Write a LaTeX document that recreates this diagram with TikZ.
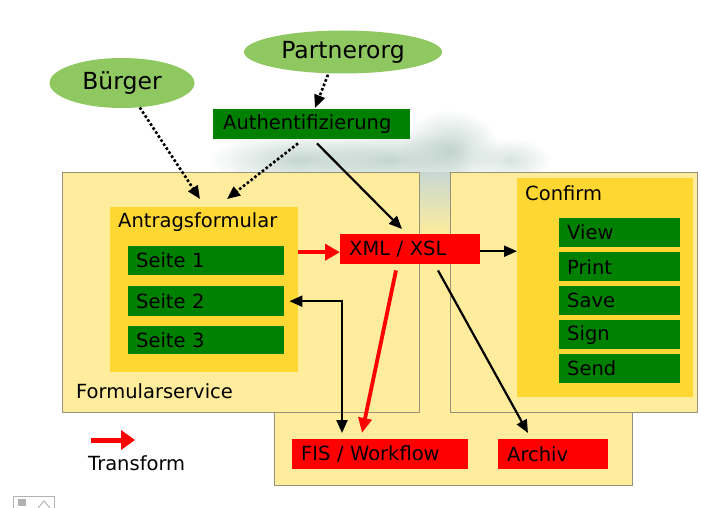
\documentclass[tikz,border=0pt]{standalone}
\usepackage{fontspec}
\setmainfont{DejaVu Sans}
\usetikzlibrary{arrows.meta,shapes.geometric,calc,fadings}
\tikzfading[name=cloudfade, inner color=transparent!0, outer color=transparent!100]
\definecolor{lightyel}{RGB}{255,236,156}
\definecolor{goldc}{RGB}{255,215,50}
\definecolor{darkgr}{RGB}{0,128,0}
\definecolor{redc}{RGB}{255,0,0}
\definecolor{ellgr}{RGB}{143,200,96}
\definecolor{bordc}{RGB}{150,145,120}
\definecolor{cloudc}{RGB}{175,200,190}
\tikzset{
  boxfont/.style={font=\fontsize{19.5}{22}\selectfont},
  bigbox/.style={draw=bordc, line width=0.8pt, fill=lightyel},
  goldbox/.style={fill=goldc},
  gbox/.style={boxfont, fill=darkgr, text=black, inner xsep=8pt, inner ysep=0pt, align=left, anchor=north west},
  rbox/.style={boxfont, fill=redc, text=black, inner xsep=9pt, inner ysep=0pt, align=left, anchor=north west},
  ell/.style={ellipse, fill=ellgr, inner sep=0pt, font=\fontsize{23.5}{26}\selectfont},
  lbl/.style={boxfont, anchor=west, inner sep=0pt},
  cloud/.style={fill=cloudc, path fading=cloudfade, fill opacity=0.75},
  dotarrow/.style={line width=2.6pt, dash pattern=on 2.6pt off 2.2pt, -{Triangle[length=13pt,width=11pt]}},
  blkarrow/.style={line width=2.2pt, -{Triangle[length=13pt,width=11pt]}},
  redarrow/.style={draw=redc, line width=3.8pt, -{Triangle[length=15pt,width=16pt]}},
}
\begin{document}
\begin{tikzpicture}[x=1pt,y=-1pt]
\useasboundingbox (0,0) rectangle (701,508);
\fill[white] (0,0) rectangle (701,508);
% cloud
\fill[cloud] (300,160) ellipse [x radius=90, y radius=28];
\fill[cloud] (390,160) ellipse [x radius=80, y radius=30];
\fill[cloud] (450,150) ellipse [x radius=50, y radius=40];
\fill[cloud, fill opacity=0.5] (510,160) ellipse [x radius=40, y radius=22];
% bottom box
\draw[bigbox] (274,172) rectangle (632,485);
\shade[top color=cloudc!70, bottom color=lightyel] (420,172.5) rectangle (449.5,235);
% top boxes
\draw[bigbox] (62,172) rectangle (419,412);
\draw[bigbox] (450,172) rectangle (697,412);
% inner gold boxes
\fill[goldbox] (110,207) rectangle (298,372);
\fill[goldbox] (517,178) rectangle (693,397);
\node[lbl] (antraglbl) at (118,222) {Antragsformular};
\node[lbl] (formlbl) at (76,391) {Formularservice};
\node[lbl] (confirmlbl) at (525,193) {Confirm};
\coordinate (antrag) at (110,207);
\coordinate (confirmw) at (517,251);
% ellipses
\node[ell, minimum width=145pt, minimum height=50pt] (buerger) at (122,83) {Bürger};
\node[ell, minimum width=198pt, minimum height=43pt] (partner) at (343,52) {Partnerorg};
% auth
\node[gbox, text width=177pt, minimum height=30pt, inner xsep=10pt] (auth) at (213,109) {Authentifizierung};
% seiten
\node[gbox, text width=140pt, minimum height=29pt] (seite1) at (128,246) {Seite 1};
\node[gbox, text width=140pt, minimum height=30pt] (seite2) at (128,286) {Seite 2};
\node[gbox, text width=140pt, minimum height=28pt] (seite3) at (128,326) {Seite 3};
% confirm items
\node[gbox, text width=105pt, minimum height=29pt] (view) at (559,218) {View};
\node[gbox, text width=105pt, minimum height=29pt] (print) at (559,252) {Print};
\node[gbox, text width=105pt, minimum height=29pt] (save) at (559,286) {Save};
\node[gbox, text width=105pt, minimum height=29pt] (sign) at (559,320) {Sign};
\node[gbox, text width=105pt, minimum height=29pt] (send) at (559,354) {Send};
% red boxes
\node[rbox, text width=122pt, minimum height=30pt] (xml) at (340,234) {XML / XSL};
\node[rbox, text width=158pt, minimum height=30pt] (fis) at (292,439) {FIS / Workflow};
\node[rbox, text width=92pt, minimum height=30pt] (archiv) at (498,439) {Archiv};
% arrows
\draw[dotarrow] (buerger.-54) -- ([xshift=90pt,yshift=8pt]antrag);
\draw[dotarrow] ([xshift=-15pt,yshift=-1pt]partner.south) -- ([xshift=102pt,yshift=1pt]auth.north west);
\draw[dotarrow] ([xshift=85pt,yshift=-4pt]auth.south west) -- ([xshift=117pt,yshift=8pt]antrag);
\draw[blkarrow] ([xshift=104pt,yshift=-4pt]auth.south west) -- ([xshift=62pt,yshift=5pt]xml.north west);
\draw[redarrow] ([yshift=-3pt]xml.west -| 298,0) -- ([yshift=-3pt]xml.west);
\draw[blkarrow] ([yshift=-2pt]xml.east) -- ([yshift=-2pt]xml.east -| confirmw);
\draw[redarrow, -{Triangle[length=15pt,width=13pt]}] ([xshift=56pt,yshift=-6pt]xml.south west) -- ([xshift=70pt,yshift=6pt]fis.north west);
\draw[line width=2.2pt, {Triangle[length=13pt,width=11pt]}-{Triangle[length=13pt,width=11pt]}] ([xshift=5pt]seite2.east) -| ([xshift=50pt,yshift=6pt]fis.north west);
\draw[blkarrow] ([xshift=98pt,yshift=-6pt]xml.south west) -- ([xshift=30pt,yshift=6pt]archiv.north west);
% legend
\coordinate (lg1) at (91,440);
\coordinate (lg2) at (135,440);
\draw[draw=redc, line width=5pt, -{Triangle[length=14pt,width=19pt]}] (lg1) -- (lg2);
\node[lbl] (transform) at (88,463) {Transform};
% small icon
\draw[gray!60, line width=0.8pt] (13,510) -- (13,496) -- (54,496) -- (54,510);
\draw[gray!70, line width=0.8pt] (38,508) -- (44,501) -- (50,508);
\fill[gray!60] (18,499) rectangle (26,506);
\end{tikzpicture}
\end{document}
